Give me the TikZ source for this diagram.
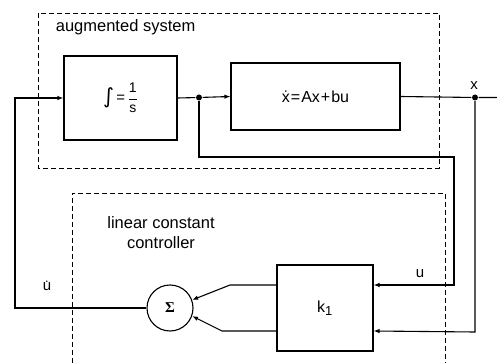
\documentclass[tikz,border=0pt]{standalone}
\usepackage{fontspec}
\setmainfont{Liberation Sans}
\newfontfamily\sigfont{Liberation Serif}
\newfontfamily\symfont{DejaVu Sans}
\usetikzlibrary{arrows.meta,calc}
\begin{document}
\begin{tikzpicture}[x=1pt,y=-1pt,
  line width=1.1pt,
  blk/.style={draw, rectangle, inner sep=0pt},
  dashbox/.style={draw, line width=0.9pt, dash pattern=on 5pt off 3pt},
  arr/.style={-{Latex[length=6pt,width=4.5pt]}},
  dot/.style={circle, fill, inner sep=0pt, minimum size=6pt},
  lbl/.style={font=\fontsize{16.5}{20}\selectfont},
  txt/.style={font=\fontsize{15}{18}\selectfont}]
\useasboundingbox (0,0) rectangle (497,363);
% dashed boxes
\draw[dashbox] (38,13) rectangle (439,168);
\draw[dashbox] (72,363) -- (72,193) -- (445,193) -- (445,363);
\node[lbl, anchor=west] (aug) at (52,27) {augmented system};
\node[lbl, align=center] (lcc) at (161,233) {linear constant\\controller};
% blocks
\node[blk, minimum width=113pt, minimum height=84pt] (int) at (120.5,98)
  {\fontsize{15}{18}\selectfont\raisebox{-1pt}{\symfont\fontsize{21}{24}\selectfont ∫}\,=\,$\displaystyle\frac{\mbox{\fontsize{14}{16}\selectfont 1}}{\mbox{\fontsize{14}{16}\selectfont s}}$};
\node[blk, minimum width=169pt, minimum height=67pt] (sys) at (315.5,96.5)
  {\fontsize{16}{19}\selectfont \.{x}\kern1pt=\kern1ptAx\kern1pt+\kern1ptbu};
\node[blk, minimum width=96pt, minimum height=86pt] (k1) at (325,308)
  {\fontsize{16}{19}\selectfont k$_{\mbox{\fontsize{13}{15}\selectfont 1}}$};
\node[circle, draw, minimum size=46pt, inner sep=0pt] (sum) at (170,308)
  {\sigfont\bfseries\fontsize{15}{18}\selectfont Σ};
% junctions
\node[dot] (j) at (199,97.5) {};
\node[dot] (xo) at (475,97.5) {};
\coordinate (xend) at (497,97.5);
\coordinate (lc) at (15,308);
\coordinate (c1) at (199,157);
\coordinate (c2) at (454,157);
\coordinate (c3) at (475,332);
\coordinate (t1) at (230,285);
\coordinate (b1) at (222,331);
% connectors
\draw[arr] (sum.west) -- (lc) |- (int.west);
\draw (int.east) -- (j);
\draw[arr] (j) -- (sys.west);
\draw (sys.east) -- (xo) -- (xend);
\draw[arr] (j) -- (c1) -- (c2) |- ([yshift=23pt]k1.east);
\draw[arr] (xo) -- (c3) -- ([yshift=-23pt]k1.east);
\draw[arr] ([yshift=23pt]k1.west) -- (t1) -- (sum.20);
\draw[arr] ([yshift=-23pt]k1.west) -- (b1) -- (sum.-20);
% labels
\node[txt] (lx) at (474,86) {x};
\node[txt] (lu) at (420,274) {u};
\node[txt] (lud) at (47,286) {\.{u}};
\end{tikzpicture}
\end{document}
